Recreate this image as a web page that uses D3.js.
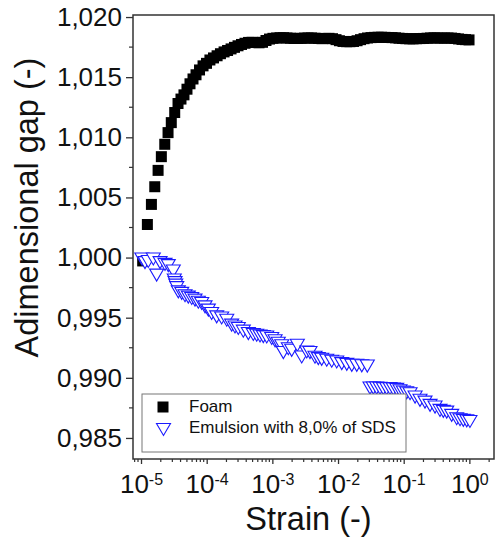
<!DOCTYPE html>
<html>
<head>
<meta charset="utf-8">
<script src="https://cdn.jsdelivr.net/npm/d3@7"></script>
<style>
  body { margin: 0; background: #fff; }
  svg { font-family: "Liberation Sans", Arial, sans-serif; }
</style>
</head>
<body>
<div id="chart"></div>
<script>
// Foam: strain (-) and adimensional gap (-)
const foamStrain = [
    1.06e-5, 1.25e-5, 1.44e-5, 1.62e-5, 1.82e-5, 2.04e-5, 2.30e-5, 2.58e-5, 2.89e-5, 3.26e-5,
    3.66e-5, 4.06e-5, 4.51e-5, 5.01e-5, 5.57e-5, 6.19e-5, 6.88e-5, 7.78e-5, 8.80e-5, 9.94e-5,
    1.12e-4, 1.27e-4, 1.44e-4, 1.62e-4, 1.84e-4, 2.08e-4, 2.35e-4, 2.65e-4, 3.00e-4, 3.39e-4,
    3.83e-4, 4.34e-4, 4.90e-4, 5.54e-4, 6.27e-4, 7.08e-4, 8.00e-4, 9.05e-4, 1.02e-3, 1.16e-3,
    1.31e-3, 1.48e-3, 1.67e-3, 1.89e-3, 2.14e-3, 2.42e-3, 2.73e-3, 3.09e-3, 3.49e-3, 3.95e-3,
    4.46e-3, 5.05e-3, 5.70e-3, 6.45e-3, 7.29e-3, 8.24e-3, 9.32e-3, 1.05e-2, 1.19e-2, 1.35e-2,
    1.52e-2, 1.72e-2, 1.95e-2, 2.20e-2, 2.49e-2, 2.81e-2, 3.18e-2, 3.60e-2, 4.07e-2, 4.60e-2,
    5.20e-2, 5.88e-2, 6.64e-2, 7.51e-2, 8.49e-2, 9.60e-2, 0.108, 0.123, 0.139, 0.157,
    0.177, 0.200, 0.227, 0.256, 0.290, 0.327, 0.370, 0.418, 0.473, 0.535,
    0.605, 0.684, 0.773, 0.874, 0.988
];
const foamGap = [
    0.99972, 1.00275, 1.00442, 1.00589, 1.00725, 1.00839, 1.00942, 1.01039, 1.01122, 1.01206,
    1.01281, 1.01318, 1.01353, 1.01400, 1.01445, 1.01485, 1.01520, 1.01560, 1.01594, 1.01615,
    1.01643, 1.01660, 1.01678, 1.01695, 1.01710, 1.01722, 1.01735, 1.01748, 1.01761, 1.01772,
    1.01782, 1.01789, 1.01790, 1.01788, 1.01786, 1.01790, 1.01805, 1.01817, 1.01823, 1.01826,
    1.01828, 1.01828, 1.01826, 1.01824, 1.01822, 1.01822, 1.01823, 1.01825, 1.01826, 1.01826,
    1.01824, 1.01822, 1.01820, 1.01822, 1.01823, 1.01820, 1.01812, 1.01803, 1.01797, 1.01795,
    1.01795, 1.01797, 1.01803, 1.01812, 1.01820, 1.01826, 1.01829, 1.01831, 1.01832, 1.01832,
    1.01831, 1.01830, 1.01829, 1.01827, 1.01824, 1.01822, 1.01820, 1.01819, 1.01819, 1.01820,
    1.01821, 1.01822, 1.01824, 1.01826, 1.01827, 1.01826, 1.01825, 1.01825, 1.01826, 1.01825,
    1.01822, 1.01818, 1.01814, 1.01812, 1.01810
];

// Emulsion with 8,0% of SDS
const emulsionStrain = [
    1.03e-5, 1.15e-5, 1.29e-5, 1.54e-5, 1.73e-5, 1.95e-5, 2.32e-5, 2.60e-5, 3.10e-5, 3.21e-5,
    3.30e-5, 3.38e-5, 3.50e-5, 3.70e-5, 4.17e-5, 4.68e-5, 5.25e-5, 5.92e-5, 6.64e-5, 7.46e-5,
    8.40e-5, 9.44e-5, 1.06e-4, 1.19e-4, 1.42e-4, 1.69e-4, 2.02e-4, 2.40e-4, 2.70e-4, 3.03e-4,
    3.61e-4, 4.31e-4, 5.13e-4, 5.78e-4, 6.49e-4, 7.28e-4, 8.21e-4, 9.78e-4, 1.10e-3, 1.23e-3,
    1.39e-3, 1.47e-3, 1.75e-3, 1.97e-3, 2.40e-3, 2.80e-3, 3.34e-3, 3.74e-3, 4.46e-3, 5.01e-3,
    5.64e-3, 6.73e-3, 8.02e-3, 9.55e-3, 1.14e-2, 1.36e-2, 1.62e-2, 1.93e-2, 2.30e-2, 2.79e-2,
    3.07e-2, 3.45e-2, 3.88e-2, 4.36e-2, 4.89e-2, 5.51e-2, 6.19e-2, 6.95e-2, 7.83e-2, 8.79e-2,
    9.87e-2, 0.111, 0.125, 0.149, 0.177, 0.211, 0.252, 0.300, 0.357, 0.401,
    0.452, 0.538, 0.641, 0.721, 0.809, 0.912, 1.02
];
const emulsionGap = [
    0.99988, 0.99958, 0.99967, 0.99988, 0.99854, 0.99958, 0.99943, 0.99933, 0.99888, 0.99813,
    0.99792, 0.99771, 0.99750, 0.99715, 0.99702, 0.99683, 0.99671, 0.99660, 0.99646, 0.99629,
    0.99618, 0.99590, 0.99563, 0.99535, 0.99507, 0.99498, 0.99479, 0.99438, 0.99423, 0.99410,
    0.99388, 0.99368, 0.99360, 0.99354, 0.99348, 0.99343, 0.99340, 0.99327, 0.99308, 0.99288,
    0.99267, 0.99210, 0.99242, 0.99229, 0.99271, 0.99173, 0.99215, 0.99210, 0.99171, 0.99160,
    0.99154, 0.99146, 0.99138, 0.99132, 0.99118, 0.99112, 0.99104, 0.99104, 0.99100, 0.99098,
    0.98915, 0.98915, 0.98915, 0.98913, 0.98910, 0.98910, 0.98910, 0.98907, 0.98904, 0.98893,
    0.98882, 0.98875, 0.98868, 0.98840, 0.98813, 0.98798, 0.98771, 0.98757, 0.98729, 0.98721,
    0.98715, 0.98688, 0.98660, 0.98652, 0.98646, 0.98642, 0.98637
];

const yTicks = [0.985, 0.990, 0.995, 1.000, 1.005, 1.010, 1.015, 1.020];
const xTickExponents = [-5, -4, -3, -2, -1, 0];
const legendLabels = ["Foam", "Emulsion with 8,0% of SDS"];

const W = 497, H = 538;
const margin = { top: 15, right: 3, bottom: 79, left: 133 },
    width = W - margin.left - margin.right,
    height = H - margin.top - margin.bottom;

const svg = d3.select("#chart")
    .append("svg")
    .attr("width", W)
    .attr("height", H);

const g = svg.append("g")
    .attr("transform", "translate(" + margin.left + "," + margin.top + ")");

const x = d3.scaleLog()
    .domain([Math.pow(10, -5.122), Math.pow(10, 0.375)])
    .range([0, width]);

const y = d3.scaleLinear()
    .domain([0.98325, 1.02017])
    .range([height, 0]);

const axisColor = "#333";
const commaFmt = v => d3.format(".3f")(v).replace(".", ",");

// y axis
const yAxis = g.append("g")
    .call(d3.axisLeft(y).tickValues(yTicks).tickSize(7).tickPadding(4).tickFormat(commaFmt));
yAxis.select(".domain").remove();
yAxis.selectAll("line").attr("stroke", axisColor).attr("stroke-width", 1.3);
yAxis.selectAll("text")
    .style("font-size", "26px")
    .style("font-family", "'Liberation Sans', Arial, sans-serif")
    .attr("fill", "#111");

// y minor ticks
g.append("g")
    .selectAll("line")
    .data(yTicks.slice(0, -1).map(v => v + 0.0025))
    .enter()
    .append("line")
    .attr("x1", 0).attr("x2", -4)
    .attr("y1", d => y(d)).attr("y2", d => y(d))
    .attr("stroke", axisColor)
    .attr("stroke-width", 1.2);

// x axis
const xAxis = g.append("g")
    .attr("transform", "translate(0," + height + ")")
    .call(d3.axisBottom(x).tickValues(xTickExponents.map(e => Math.pow(10, e))).tickSize(5).tickFormat(""));
xAxis.select(".domain").remove();
xAxis.selectAll("line").attr("stroke", axisColor).attr("stroke-width", 1.3);
xAxis.selectAll(".tick").each(function (d, i) {
    const t = d3.select(this).append("text")
        .attr("y", 34)
        .attr("fill", "#111")
        .attr("text-anchor", "middle");
    t.append("tspan").style("font-size", "26px").text("10");
    t.append("tspan").style("font-size", "16px").attr("dy", -8).text(xTickExponents[i]);
});

// x minor ticks
const xMinor = [];
for (let e = -6; e <= 0; e++) {
    for (let m = 2; m <= 9; m++) {
        const v = m * Math.pow(10, e);
        if (v > x.domain()[0] && v < x.domain()[1]) xMinor.push(v);
    }
}
g.append("g")
    .selectAll("line")
    .data(xMinor)
    .enter()
    .append("line")
    .attr("x1", d => x(d)).attr("x2", d => x(d))
    .attr("y1", height).attr("y2", height + 3)
    .attr("stroke", axisColor)
    .attr("stroke-width", 1.2);

// frame
g.append("rect")
    .attr("width", width)
    .attr("height", height)
    .attr("fill", "none")
    .attr("stroke", axisColor)
    .attr("stroke-width", 1.5);

const foam = foamStrain.map((s, i) => ({ strain: s, gap: foamGap[i] }));
const emulsion = emulsionStrain.map((s, i) => ({ strain: s, gap: emulsionGap[i] }));

const sq = 11;
const triPath = (cx, cy) => `M${cx - 7},${cy - 6}L${cx + 7},${cy - 6}L${cx},${cy + 6}Z`;

// Foam squares
g.append("g")
    .selectAll("rect")
    .data(foam)
    .enter()
    .append("rect")
    .attr("x", d => x(d.strain) - sq / 2)
    .attr("y", d => y(d.gap) - sq / 2)
    .attr("width", sq)
    .attr("height", sq)
    .attr("fill", "#000");

// Emulsion triangles, white filled so they hide the ones drawn before
g.append("g")
    .selectAll("path")
    .data(emulsion)
    .enter()
    .append("path")
    .attr("d", d => triPath(x(d.strain), y(d.gap)))
    .attr("fill", "#fff")
    .attr("stroke", "#1a1aff")
    .attr("stroke-width", 1.1);

// legend
const legend = svg.append("g").attr("transform", "translate(142,394)");
legend.append("rect")
    .attr("width", 264)
    .attr("height", 58)
    .attr("fill", "#fff")
    .attr("stroke", "#777")
    .attr("stroke-width", 1);
legend.append("rect")
    .attr("x", 21 - sq / 2).attr("y", 13 - sq / 2)
    .attr("width", sq).attr("height", sq)
    .attr("fill", "#000");
legend.append("path")
    .attr("d", triPath(21.5, 35.5))
    .attr("fill", "#fff")
    .attr("stroke", "#1a1aff")
    .attr("stroke-width", 1.1);
legend.selectAll("text.lg")
    .data(legendLabels)
    .enter()
    .append("text")
    .attr("class", "lg")
    .attr("x", 47)
    .attr("y", (d, i) => 18 + i * 21)
    .style("font-size", "17px")
    .attr("fill", "#111")
    .text(d => d);

// axis titles
svg.append("text")
    .attr("transform", "rotate(-90)")
    .attr("x", -207.5)
    .attr("y", 38)
    .attr("text-anchor", "middle")
    .style("font-size", "32.5px")
    .attr("fill", "#111")
    .text("Adimensional gap (-)");

svg.append("text")
    .attr("x", 308.5)
    .attr("y", 530)
    .attr("text-anchor", "middle")
    .style("font-size", "32.5px")
    .attr("fill", "#111")
    .text("Strain (-)");
</script>
</body>
</html>
